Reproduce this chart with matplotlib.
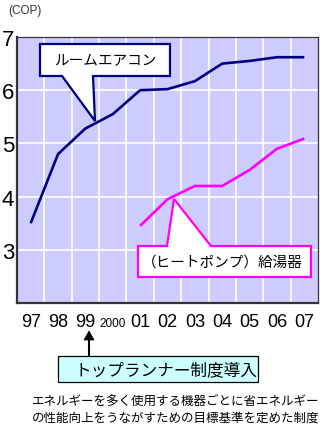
import numpy as np
import matplotlib.pyplot as plt
from matplotlib.patches import Polygon, Rectangle

plt.rcParams['font.family'] = ['Noto Sans CJK JP', 'DejaVu Sans']

years = ["97", "98", "99", "2000", "01", "02", "03", "04", "05", "06", "07"]
aircon_cop = [3.5, 4.8, 5.28, 5.55, 6.0, 6.02, 6.17, 6.5, 6.55, 6.62, 6.62]
heatpump_years = ["01", "02", "03", "04", "05", "06", "07"]
heatpump_cop = [3.45, 3.95, 4.2, 4.2, 4.5, 4.9, 5.09]
yticks = [3, 4, 5, 6, 7]

W, H = 328, 431
fig = plt.figure(figsize=(W / 100, H / 100), dpi=100)
fig.patch.set_facecolor("white")


def px(x, y):
    # pixel (y down) -> figure fraction
    return (x / W, 1 - y / H)


ax = fig.add_axes([17 / W, 1 - 304 / H, 301 / W, 266 / H])
ax.set_facecolor("#ccccff")
xi = np.arange(len(years))
hp_x = [years.index(y) for y in heatpump_years]

ax.plot(xi, aircon_cop, color="#000080", lw=1.9, solid_capstyle="butt", zorder=3)
ax.plot(hp_x, heatpump_cop, color="#ff00ff", lw=1.9, solid_capstyle="butt", zorder=3)

ax.set_xlim(-0.5, len(years) - 0.5)
ax.set_ylim(2, 7)
for v in np.arange(0.5, len(years) - 1, 1.0):
    ax.axvline(v, color="white", lw=1.2, zorder=1)
for v in yticks[:-1]:
    ax.axhline(v, color="white", lw=1.2, zorder=1)

ax.set_yticks(yticks)
ax.set_yticklabels([str(v) for v in yticks], fontsize=16, family="Liberation Sans")
ax.set_xticks(xi)
ax.set_xticklabels(years, family="Liberation Sans")
for lab, t in zip(ax.get_xticklabels(), years):
    lab.set_fontsize(8.5 if t == "2000" else 13)
    lab.set_verticalalignment("baseline")
ax.tick_params(length=0)
ax.tick_params(axis="y", pad=2)
ax.tick_params(axis="x", pad=16.5)
for s in ["left", "bottom"]:
    ax.spines[s].set_linewidth(1.6)
    ax.spines[s].set_color("#333333")
for s in ["top", "right"]:
    ax.spines[s].set_linewidth(0.9)
    ax.spines[s].set_color("#333333")

fig.text(*px(8, 11), "(COP)", fontsize=8.5, va="center", ha="left",
         color="#333333", family="Liberation Sans")

# callout: room air conditioner
aircon_pts = [(40, 45), (170, 45), (170, 77), (93, 77), (95, 122), (62, 77), (40, 77)]
fig.add_artist(Polygon([px(*p) for p in aircon_pts], closed=True, facecolor="white",
                       edgecolor="#000080", lw=1.6, zorder=5, joinstyle="miter"))
fig.text(*px(105, 61), "ルームエアコン", fontsize=10.5, ha="center", va="center", zorder=6)

# callout: heat pump water heater
hp_pts = [(138, 247), (167, 247), (174, 200), (211, 247), (311, 247), (311, 278), (138, 278)]
fig.add_artist(Polygon([px(*p) for p in hp_pts], closed=True, facecolor="white",
                       edgecolor="#ff00ff", lw=1.6, zorder=5, joinstyle="miter"))
fig.text(*px(222, 263), "（ヒートポンプ）給湯器", fontsize=10.5, ha="center", va="center", zorder=6)

# arrow to top runner box
fig.add_artist(plt.Line2D([89 / W, 89 / W], [1 - 357 / H, 1 - 340 / H], color="black", lw=1.5))
fig.add_artist(Polygon([px(84, 341), px(94, 341), px(89, 332)], closed=True,
                       facecolor="black", edgecolor="black", lw=0.5))

x0, y0 = px(58, 383)
fig.add_artist(Rectangle((x0, y0), 200 / W, 26 / H, facecolor="#ccffff",
                         edgecolor="black", lw=0.9))
fig.text(*px(166, 371), "トップランナー制度導入", fontsize=12, ha="center", va="center")

fig.text(*px(32, 401), "エネルギーを多く使用する機器ごとに省エネルギー", fontsize=9, ha="left", va="center")
fig.text(*px(32, 418), "の性能向上をうながすための目標基準を定めた制度", fontsize=9, ha="left", va="center")

fig.savefig("out.png", dpi=100)
